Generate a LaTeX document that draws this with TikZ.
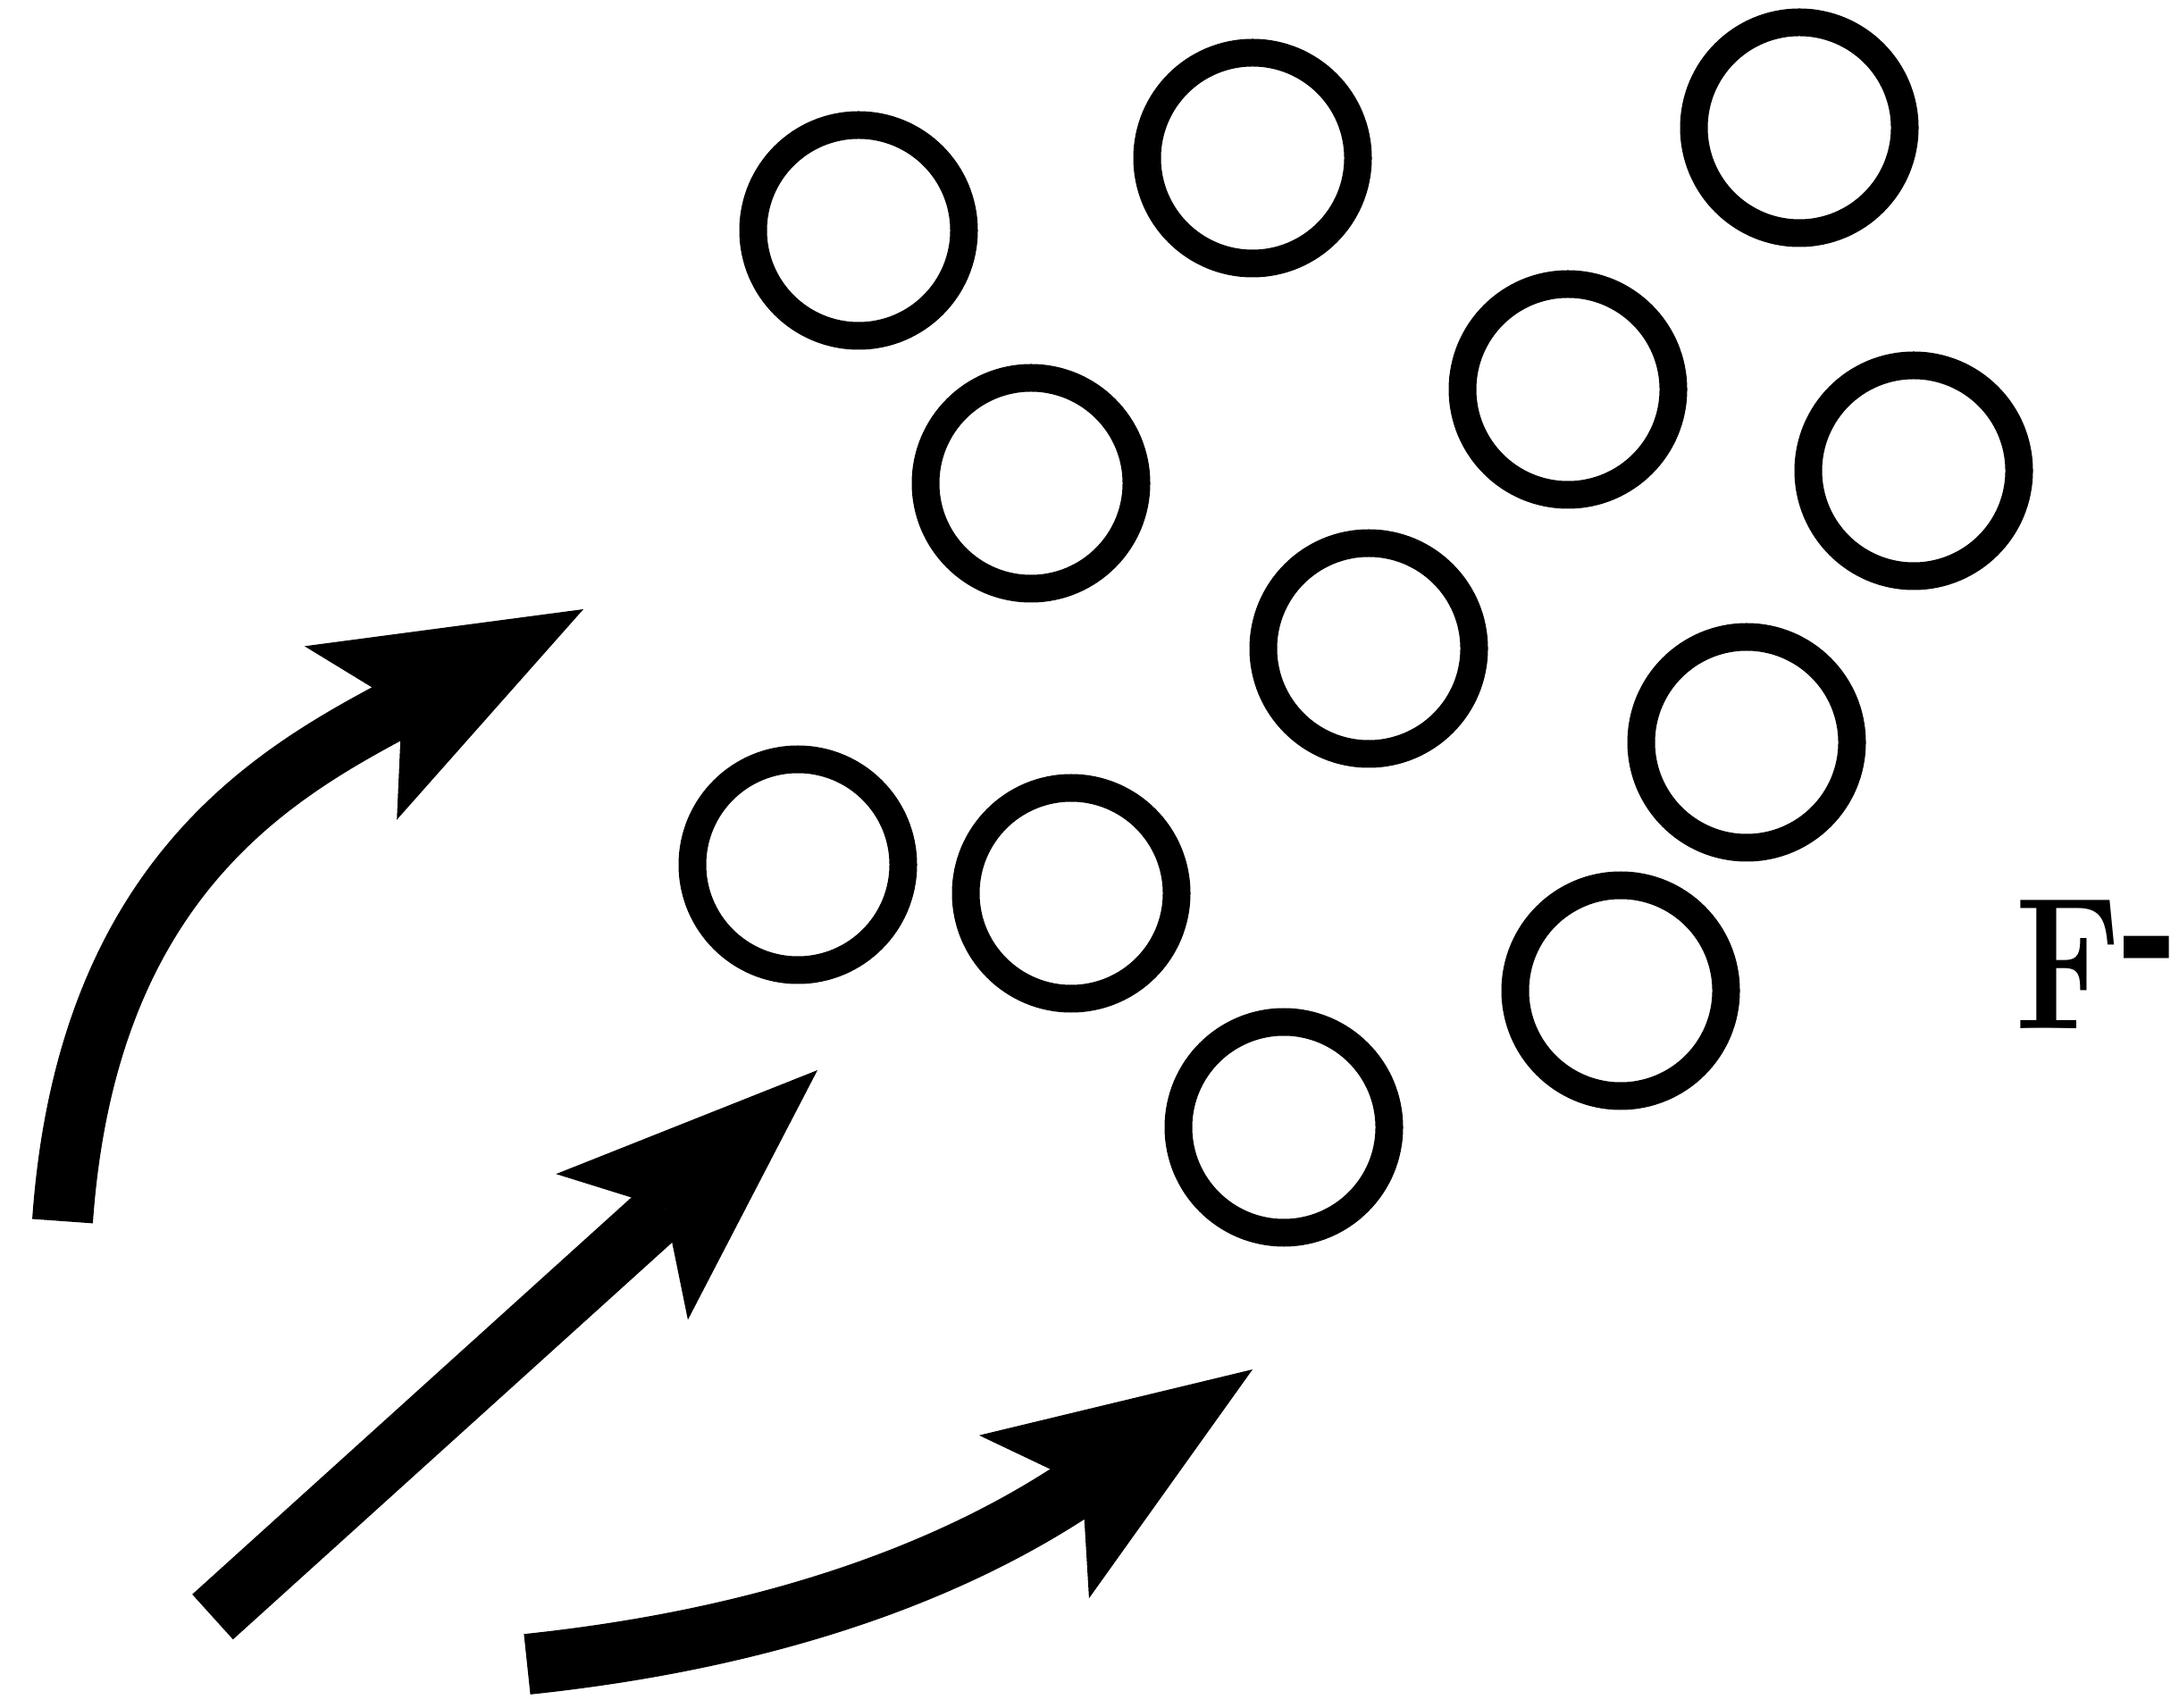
\documentclass[tikz,border=0pt]{standalone}
\usepackage{graphicx}
\usepackage{tikz}
\usetikzlibrary{arrows.meta}

\begin{document}
\begin{tikzpicture}[
  ion/.style={circle,draw,line width=0.31cm,minimum size=2.36cm,inner sep=0pt},
  arr/.style={-{Stealth[length=2.95cm,width=2.2cm,inset=0.65cm,line width=0pt]},line width=0.68cm}
]
\useasboundingbox (0,0) rectangle (24.39,-19.12);
\node[ion] (ion1) at (9.61,-2.58) {};
\node[ion] (ion2) at (14.02,-1.77) {};
\node[ion] (ion3) at (20.14,-1.43) {};
\node[ion] (ion4) at (11.54,-5.41) {};
\node[ion] (ion5) at (17.55,-4.36) {};
\node[ion] (ion6) at (21.42,-5.27) {};
\node[ion] (ion7) at (15.32,-7.26) {};
\node[ion] (ion8) at (19.55,-8.31) {};
\node[ion] (ion9) at (8.93,-9.68) {};
\node[ion] (ion10) at (11.99,-10.00) {};
\node[ion] (ion11) at (18.14,-11.09) {};
\node[ion] (ion12) at (14.37,-12.62) {};
\node[font=\fontsize{60}{64}\selectfont\bfseries,anchor=base east,inner sep=0pt] (fluoride) at (24.39,-11.52)
  {\scalebox{0.8}[1]{F}\raisebox{9pt}{\fontsize{48}{48}\selectfont\scalebox{1}[1.6]{-}}};
\coordinate (tailA) at (0.70,-13.67);
\coordinate (tipA) at (6.53,-6.82);
\coordinate (tailB) at (2.38,-18.10);
\coordinate (tipB) at (9.15,-11.98);
\coordinate (tailC) at (5.90,-18.63);
\coordinate (tipC) at (14.02,-15.33);
\draw[arr] (tailA) to[out=86,in=208,looseness=1.1] (tipA);
\draw[arr] (tailB) -- (tipB);
\draw[arr] (tailC) to[out=6,in=214] (tipC);
\end{tikzpicture}
\end{document}
